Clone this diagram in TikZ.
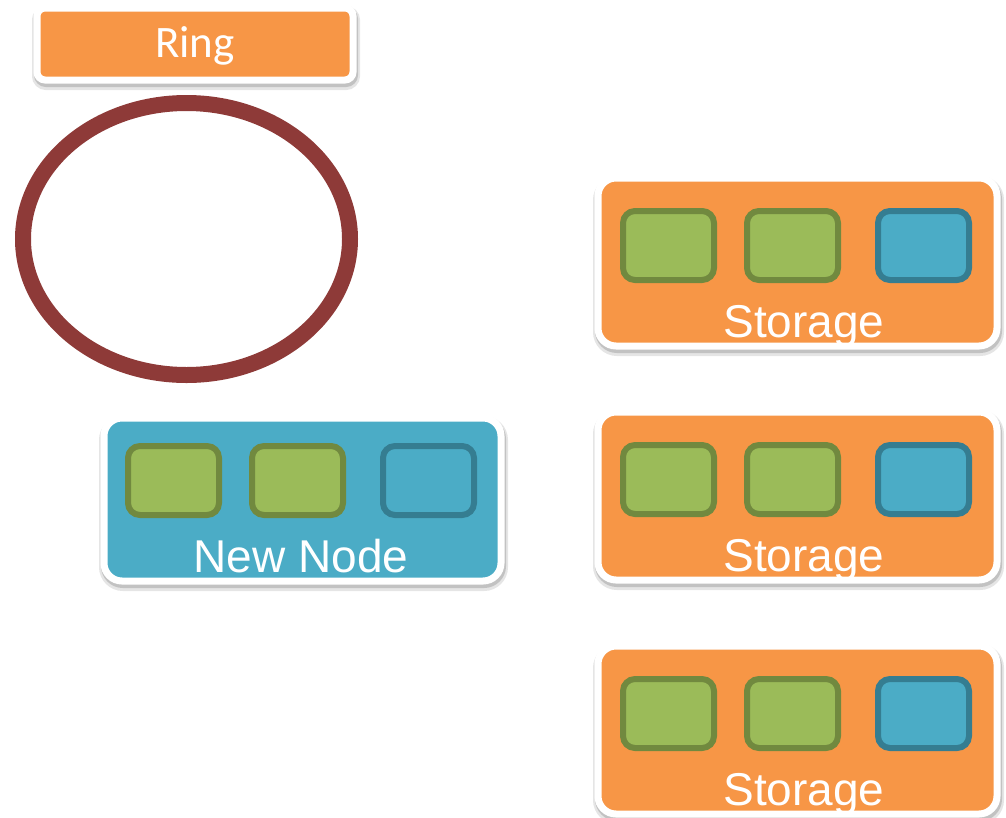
\documentclass[tikz,border=0pt]{standalone}
\usepackage{fontspec}
\setmainfont{Liberation Sans}
\newfontfamily\ringfont{Carlito}

\definecolor{ringred}{HTML}{8E3A38}
\definecolor{boxorange}{HTML}{F79646}
\definecolor{boxblue}{HTML}{4BACC6}
\definecolor{blueedge}{HTML}{357D91}
\definecolor{slotgreen}{HTML}{9BBB59}
\definecolor{greenedge}{HTML}{71893F}

\tikzset{
  panel/.style={draw=white, line width=7pt, rounded corners=18pt,
    preaction={draw=black!10, fill=black!10, line width=12pt, transform canvas={xshift=1pt, yshift=-4pt}},
    preaction={draw=black!24, fill=black!24, line width=8pt, transform canvas={xshift=1pt, yshift=-3pt}}},
  greenslot/.style={draw=greenedge, fill=slotgreen, line width=6pt, rounded corners=12pt},
  blueslot/.style={draw=blueedge, fill=boxblue, line width=6pt, rounded corners=12pt},
  lbl/.style={text=white, anchor=base, inner sep=0pt, font=\fontsize{46pt}{50pt}\selectfont}
}

\begin{document}
\begin{tikzpicture}[x=1pt, y=-1pt]
			\useasboundingbox (0,0) rectangle (1006,817);

			% ring label
			\draw[panel, rounded corners=8pt, fill=boxorange] (37,8) rectangle (353,80);
			\node[lbl, font=\ringfont\fontsize{45pt}{50pt}\selectfont] (ringlabel) at (195,57) {Ring};

			% the ring
			\draw[ringred, line width=16pt] (186.5,239) ellipse [x radius=163.5, y radius=136];

			% new node
			\draw[panel, fill=boxblue] (104,418) rectangle (501,581);
			\draw[greenslot] (128,446) rectangle (219,515);
			\draw[greenslot] (252,446) rectangle (343,515);
			\draw[blueslot] (383,446) rectangle (474,515);
			\begin{scope}
				\clip[rounded corners=16pt] (107,421) rectangle (498,578);
				\node[lbl] (newnode) at (301,572) {New Node};
			\end{scope}

			% storage boxes
			\foreach \dy [count=\i] in {0,234,468} {
				\draw[panel, fill=boxorange] (598,178+\dy) rectangle (997,346+\dy);
				\draw[greenslot] (623,211+\dy) rectangle (714,280+\dy);
				\draw[greenslot] (747,211+\dy) rectangle (838,280+\dy);
				\draw[blueslot] (878,211+\dy) rectangle (969,280+\dy);
				\begin{scope}
					\clip[rounded corners=16pt] (601,181+\dy) rectangle (994,342+\dy);
					\node[lbl] (storage\i) at (804,337+\dy) {Storage};
				\end{scope}
			}
\end{tikzpicture}
\end{document}
